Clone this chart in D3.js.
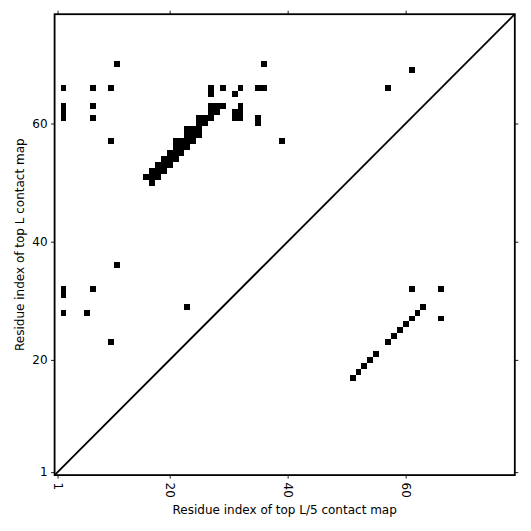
<!DOCTYPE html>
<html>
<head>
<meta charset="utf-8">
<script src="https://cdn.jsdelivr.net/npm/d3@7"></script>
<style>
  html, body { margin: 0; padding: 0; background: #fff; }
  text { font-family: "DejaVu Sans", sans-serif; }
</style>
</head>
<body>
<svg id="chart" width="531" height="531"></svg>
<script>
// Sequence length and ticks
const seqLength = 78;
const tickValues = [1, 20, 40, 60];
const xTitle = "Residue index of top L/5 contact map";
const yTitle = "Residue index of top L contact map";

// Top L contacts (upper-left triangle): residue i (x) and j (y)
const topLI = [2, 2, 2, 2, 7, 7, 7, 10, 11, 10,
  27, 27, 29, 31, 32, 35, 36, 36,
  32, 31, 32, 31, 32, 35, 35, 39, 57, 61,
  27, 28, 29,
  27, 28,
  25, 26, 27,
  25, 26,
  23, 24, 25,
  23, 24, 25,
  21, 22, 23, 24,
  21, 22, 23,
  20, 21, 22,
  19, 20, 21,
  18, 19, 20,
  17, 18, 19,
  16, 17, 18,
  17,
  2, 2, 7, 2, 6, 11, 23, 10];
const topLJ = [66, 63, 62, 61, 66, 63, 61, 66, 70, 57,
  66, 65, 66, 65, 66, 66, 66, 70,
  63, 62, 62, 61, 61, 61, 60, 57, 66, 69,
  63, 63, 63,
  62, 62,
  61, 61, 61,
  60, 60,
  59, 59, 59,
  58, 58, 58,
  57, 57, 57, 57,
  56, 56, 56,
  55, 55, 55,
  54, 54, 54,
  53, 53, 53,
  52, 52, 52,
  51, 51, 51,
  50,
  32, 31, 32, 28, 28, 36, 29, 23];

// Top L/5 contacts (lower-right triangle)
const topL5I = [51, 52, 53, 54, 55, 57, 58, 59, 60, 61, 62, 63, 61, 66, 66];
const topL5J = [17, 18, 19, 20, 21, 23, 24, 25, 26, 27, 28, 29, 32, 32, 27];

const svg = d3.select("#chart");
const margin = { left: 54.6, right: 16.2, top: 14.2, bottom: 55.9 };
const W = 531 - margin.left - margin.right;
const H = 531 - margin.top - margin.bottom;

const x = d3.scaleLinear().domain([0.5, seqLength + 0.5]).range([0, W]);
const y = d3.scaleLinear().domain([0.5, seqLength + 0.5]).range([H, 0]);

const g = svg.append("g").attr("transform", `translate(${margin.left},${margin.top})`);

const cells = topLI.map((d, k) => ({ i: d, j: topLJ[k] }))
  .concat(topL5I.map((d, k) => ({ i: d, j: topL5J[k] })));

g.selectAll("rect.cell").data(cells).join("rect")
  .attr("class", "cell")
  .attr("x", d => x(d.i - 0.5))
  .attr("y", d => y(d.j + 0.5))
  .attr("width", d => x(d.i + 0.5) - x(d.i - 0.5))
  .attr("height", d => y(d.j - 0.5) - y(d.j + 0.5))
  .attr("fill", "#000")
  .attr("shape-rendering", "crispEdges");

// diagonal
g.append("line")
  .attr("x1", x(0.5)).attr("y1", y(0.5))
  .attr("x2", x(seqLength + 0.5)).attr("y2", y(seqLength + 0.5))
  .attr("stroke", "#000").attr("stroke-width", 1.8);

// axes
const tickLen = 3.5;
const xb = g.append("g").attr("transform", `translate(0,${H})`)
  .call(d3.axisBottom(x).tickValues(tickValues).tickSize(tickLen).tickPadding(4).tickFormat(d3.format("d")));
xb.selectAll("text")
  .attr("transform", function() { return null; })
  .each(function(d) {
    const t = d3.select(this);
    t.attr("y", 0).attr("dy", null)
      .attr("transform", `translate(0,${tickLen + 4}) rotate(90)`)
      .attr("text-anchor", "start")
      .attr("dominant-baseline", "central");
  });
const xt = g.append("g")
  .call(d3.axisTop(x).tickValues(tickValues).tickSize(tickLen).tickFormat(""));
const yl = g.append("g")
  .call(d3.axisLeft(y).tickValues(tickValues).tickSize(tickLen).tickPadding(3.5).tickFormat(d3.format("d")));
const yr = g.append("g").attr("transform", `translate(${W},0)`)
  .call(d3.axisRight(y).tickValues(tickValues).tickSize(tickLen).tickFormat(""));

[xb, xt, yl, yr].forEach(a => {
  a.select(".domain").remove();
  a.selectAll(".tick line").attr("stroke", "#000").attr("stroke-width", 0.9);
  a.selectAll(".tick text").attr("font-size", 12).attr("fill", "#000")
    .attr("font-family", "DejaVu Sans, sans-serif");
});

// frame
g.append("rect").attr("x", 0).attr("y", 0).attr("width", W).attr("height", H)
  .attr("fill", "none").attr("stroke", "#000").attr("stroke-width", 1.8);

// titles
svg.append("text")
  .attr("x", margin.left + W / 2).attr("y", 514)
  .attr("text-anchor", "middle").attr("font-size", 12).attr("fill", "#000")
  .text(xTitle);
svg.append("text")
  .attr("transform", `translate(24,${margin.top + H / 2}) rotate(-90)`)
  .attr("text-anchor", "middle").attr("font-size", 12).attr("fill", "#000")
  .text(yTitle);
</script>
</body>
</html>
